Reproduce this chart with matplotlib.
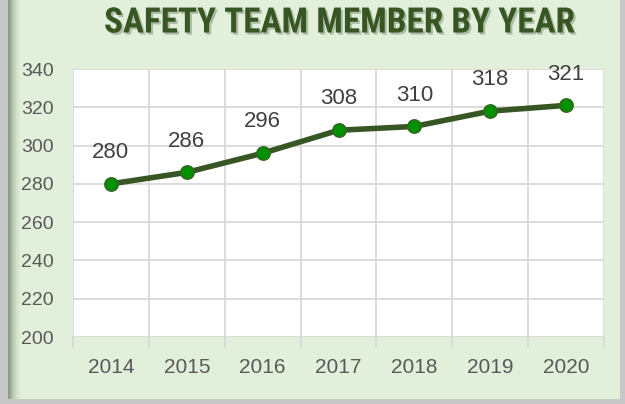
import matplotlib
matplotlib.use("Agg")
import matplotlib.pyplot as plt
import matplotlib.patheffects as pe
from matplotlib.patches import Rectangle

# data
years = ["2014", "2015", "2016", "2017", "2018", "2019", "2020"]
members = [280, 286, 296, 308, 310, 318, 321]
y_ticks = [200, 220, 240, 260, 280, 300, 320, 340]

bg_green = "#E2EFDA"
line_col = "#375623"
text_col = "#595959"
grid_col = "#D9D9D9"

fig = plt.figure(figsize=(6.25, 4.04), dpi=100)
fig.patch.set_facecolor("#C8C8C8")

# green chart area, sits behind the axes
fig.patches.append(Rectangle((8 / 625, 5 / 404), 612 / 625, 399 / 404,
                             transform=fig.transFigure, facecolor=bg_green,
                             edgecolor="none", zorder=-5))
# soft shadow on the left edge of the chart area
shades = ["#8f9e88", "#a3b29b", "#b7c6ae", "#c7d6bf", "#d3e2cb", "#dbe9d3"]
for i, c in enumerate(shades):
    fig.patches.append(Rectangle(((8 + 2 * i) / 625, 5 / 404), 2 / 625, 399 / 404,
                                 transform=fig.transFigure, facecolor=c,
                                 edgecolor="none", zorder=-4))

ax = fig.add_axes([73 / 625, 1 - 337 / 404, 531 / 625, 268 / 404])
ax.set_facecolor("white")

x = list(range(len(years)))
ax.plot(x, members, color=line_col, lw=4, marker="o", markersize=9.5,
        markerfacecolor="#009000", markeredgecolor="#2E6B1F",
        markeredgewidth=1.2, zorder=3, solid_capstyle="round")

for xi, v in zip(x, members):
    ax.annotate(str(v), (xi, v), textcoords="offset points", xytext=(0, 15),
                ha="center", va="bottom", fontsize=16, color="#404040",
                family="Liberation Sans")

ax.set_xlim(-0.5, len(years) - 0.5)
ax.set_ylim(200, 340)
ax.set_yticks(y_ticks)
ax.set_yticklabels([str(t) for t in y_ticks], fontsize=14, color=text_col,
                   family="Liberation Sans")
ax.set_xticks(x)
ax.set_xticklabels(years, fontsize=15, color=text_col, family="Liberation Sans")
ax.tick_params(axis="y", length=0, pad=14)
ax.tick_params(axis="x", length=0, pad=15)

# gridlines: horizontal at values, vertical at category boundaries
bounds = [i - 0.5 for i in range(len(years) + 1)]
for t in y_ticks:
    ax.axhline(t, color=grid_col, lw=1.3, zorder=1)
for b in bounds:
    ax.axvline(b, color=grid_col, lw=1.3, zorder=1)
    # small tick marks below the axis
    ax.plot([b, b], [200, 195], color=grid_col, lw=1.3, clip_on=False, zorder=1)

for s in ax.spines.values():
    s.set_visible(False)

fig.text(0.543, 0.943, "SAFETY TEAM MEMBER BY YEAR", ha="center", va="center",
         fontsize=25.3, fontweight="bold", color=line_col,
         family=["Roboto Condensed", "Liberation Sans Narrow", "Roboto"],
         path_effects=[pe.withSimplePatchShadow(offset=(1.5, -1.5),
                                                shadow_rgbFace="#8a9a80",
                                                alpha=0.6)])

fig.savefig("out.png", dpi=100, facecolor=fig.get_facecolor())
